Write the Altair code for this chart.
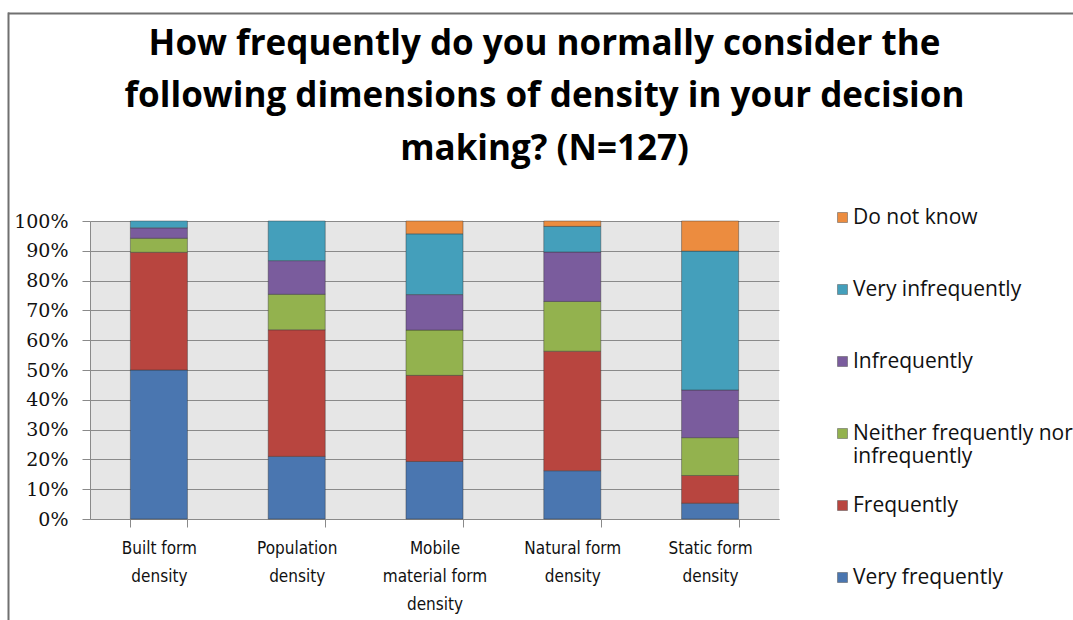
import altair as alt
import pandas as pd

# ---------------- data ----------------
categories = [
    "Built form density",
    "Population density",
    "Mobile material form density",
    "Natural form density",
    "Static form density",
]
category_lines = [
    ["Built form", "density"],
    ["Population", "density"],
    ["Mobile", "material form", "density"],
    ["Natural form", "density"],
    ["Static form", "density"],
]

# stacking order: bottom -> top
responses = [
    "Very frequently",
    "Frequently",
    "Neither frequently nor infrequently",
    "Infrequently",
    "Very infrequently",
    "Do not know",
]
colors = ["#4A76B0", "#B8453F", "#93B24E", "#7A5C9D", "#449FBB", "#EC8C3F"]

very_frequently = [50.0, 21.0, 19.3, 16.2, 5.3]
frequently = [39.5, 42.5, 28.9, 40.1, 9.3]
neither = [4.7, 11.9, 15.2, 16.7, 12.7]
infrequently = [3.5, 11.3, 11.9, 16.6, 16.0]
very_infrequently = [2.3, 13.3, 20.4, 8.6, 46.6]
do_not_know = [0.0, 0.0, 4.3, 1.8, 10.1]

series = [very_frequently, frequently, neither, infrequently, very_infrequently, do_not_know]

y_ticks = [0, 10, 20, 30, 40, 50, 60, 70, 80, 90, 100]

title_lines = [
    "How frequently do you normally consider the",
    "following dimensions of density in your decision",
    "making? (N=127)",
]

# ---------------- table ----------------
rows = []
for ri, (resp, vals) in enumerate(zip(responses, series)):
    for cat, v in zip(categories, vals):
        if v > 0:
            rows.append({"category": cat, "response": resp, "value": v, "order": ri})
df = pd.DataFrame(rows)


def js_list(items):
    return "[" + ", ".join("'" + s + "'" for s in items) + "]"


x_label_expr = ""
for cat, lines in zip(categories, category_lines):
    x_label_expr += f"datum.label == '{cat}' ? {js_list(lines)} : "
x_label_expr += "datum.label"

legend_label_expr = (
    "datum.label == 'Neither frequently nor infrequently' ? "
    "['Neither frequently nor', 'infrequently'] : [datum.label, '']"
)

legend_domain = list(reversed(responses))
legend_colors = list(reversed(colors))

GRID = "#8A8A8A"

bars = (
    alt.Chart(df)
    .mark_bar(stroke="#333333", strokeWidth=0.7, strokeOpacity=0.6)
    .encode(
        x=alt.X(
            "category:N",
            sort=categories,
            scale=alt.Scale(paddingInner=0.586, paddingOuter=0.293),
            axis=alt.Axis(
                title=None,
                labelAngle=0,
                labelExpr=x_label_expr,
                labelFont="DejaVu Sans Condensed, Liberation Sans",
                labelFontSize=17,
                labelColor="#111111",
                labelLineHeight=28,
                labelBaseline="top",
                labelPadding=13,
                labelLimit=300,
                tickBand="extent",
                tickSize=8,
                tickColor=GRID,
                domainColor=GRID,
                grid=False,
            ),
        ),
        y=alt.Y(
            "value:Q",
            stack="zero",
            scale=alt.Scale(domain=[0, 100], nice=False),
            axis=alt.Axis(
                title=None,
                values=y_ticks,
                labelExpr="datum.value + '%'",
                labelFont="DejaVu Serif",
                labelFontSize=19,
                labelColor="#111111",
                labelPadding=14,
                tickSize=8,
                tickColor=GRID,
                domainColor=GRID,
                grid=True,
                gridColor=GRID,
                gridOpacity=1,
            ),
        ),
        color=alt.Color(
            "response:N",
            scale=alt.Scale(domain=legend_domain, range=legend_colors),
            legend=alt.Legend(
                title=None,
                orient="none",
                legendX=742,
                legendY=-14,
                symbolType="square",
                symbolSize=100,
                symbolOffset=0,
                symbolStrokeWidth=0.5,
                symbolStrokeColor="#555555",
                labelFont="Open Sans",
                labelFontSize=21,
                labelColor="#111111",
                labelLimit=400,
                labelOffset=0,
                rowPadding=27,
                labelExpr=legend_label_expr,
            ),
        ),
        order=alt.Order("order:Q", sort="ascending"),
    )
)

frame_df = pd.DataFrame({"k": [0]})
frame_top = (
    alt.Chart(frame_df)
    .mark_rule(color="#707070", strokeWidth=2)
    .encode(x=alt.value(-82), x2=alt.value(990), y=alt.value(-207.5))
)
frame_left = (
    alt.Chart(frame_df)
    .mark_rule(color="#707070", strokeWidth=2)
    .encode(x=alt.value(-81.5), y=alt.value(-208.5), y2=alt.value(410))
)

chart = (
    alt.layer(bars, frame_top, frame_left)
    .properties(
        width=689,
        height=298,
        autosize=alt.AutoSizeParams(type="none"),
        padding={"left": 90, "top": 221, "right": 294, "bottom": 101},
        background="white",
        title=alt.TitleParams(
            text=title_lines,
            font="Open Sans",
            fontSize=35,
            fontWeight="bold",
            color="#000000",
            lineHeight=52.5,
            anchor="middle",
            frame="group",
            dx=110,
            offset=-155,
        ),
    )
    .configure_view(fill="#E6E6E6", strokeWidth=0)
)

chart.save("out.html", embed_options={"renderer": "svg", "actions": False})
